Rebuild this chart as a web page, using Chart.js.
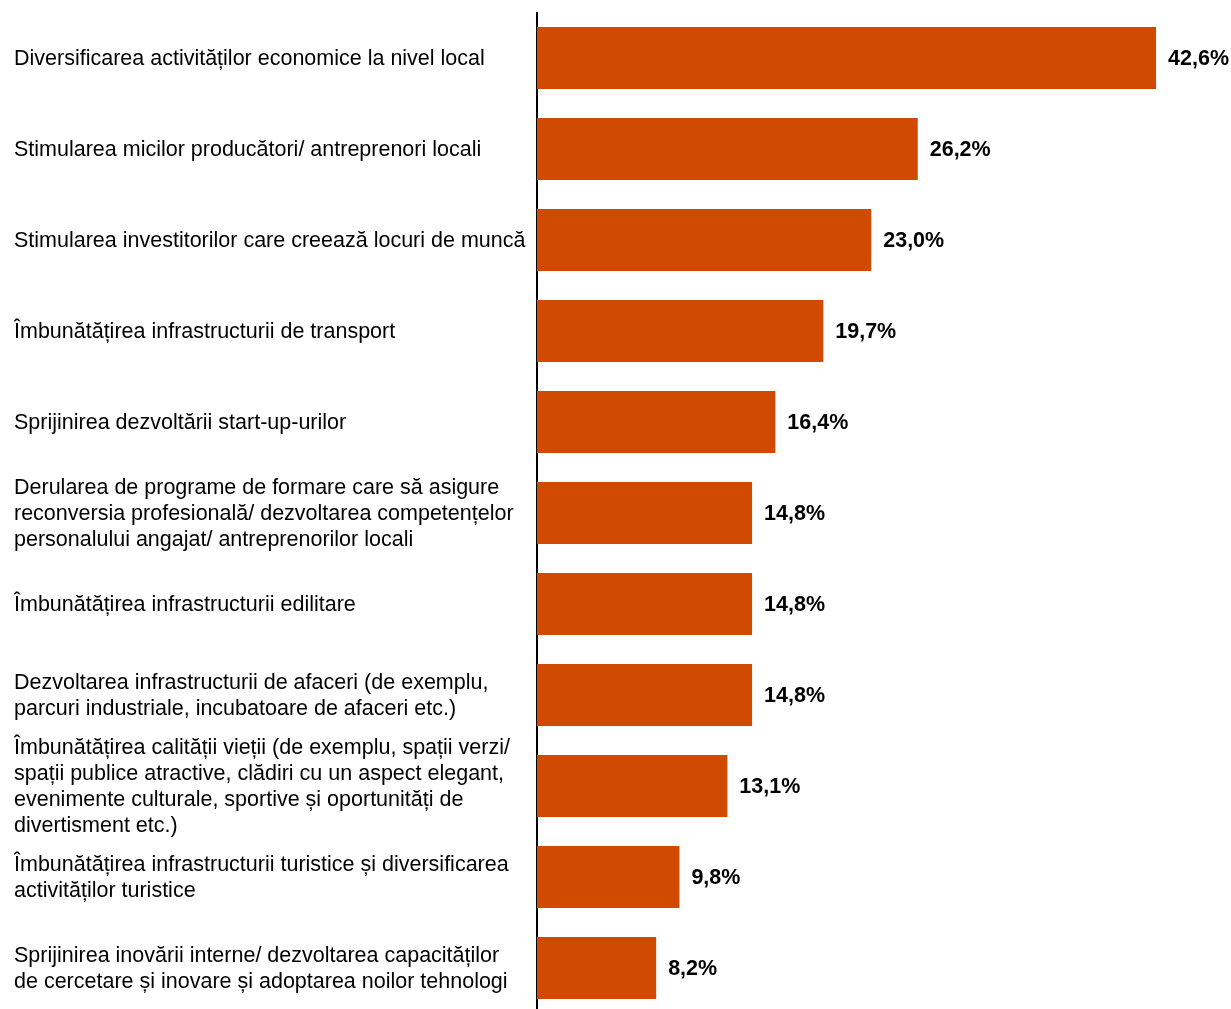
<!DOCTYPE html>
<html>
<head>
<meta charset="utf-8">
<script src="https://cdn.jsdelivr.net/npm/chart.js@4/dist/chart.umd.min.js"></script>
<style>
  html, body { margin: 0; padding: 0; background: #fff; overflow: hidden; }
  canvas { display: block; }
</style>
</head>
<body>
<canvas id="c" width="1231" height="1014"></canvas>
<script>
const categories = [
  "Diversificarea activităților economice la nivel local",
  "Stimularea micilor producători/ antreprenori locali",
  "Stimularea investitorilor care creează locuri de muncă",
  "Îmbunătățirea infrastructurii de transport",
  "Sprijinirea dezvoltării start-up-urilor",
  ["Derularea de programe de formare care să asigure", "reconversia profesională/ dezvoltarea competențelor", "personalului angajat/ antreprenorilor locali"],
  "Îmbunătățirea infrastructurii edilitare",
  ["Dezvoltarea infrastructurii de afaceri (de exemplu,", "parcuri industriale, incubatoare de afaceri etc.)"],
  ["Îmbunătățirea calității vieții (de exemplu, spații verzi/", "spații publice atractive, clădiri cu un aspect elegant,", "evenimente culturale, sportive și oportunități de", "divertisment etc.)"],
  ["Îmbunătățirea infrastructurii turistice și diversificarea", "activităților turistice"],
  ["Sprijinirea inovării interne/ dezvoltarea capacităților", "de cercetare și inovare și adoptarea noilor tehnologi"]
];
const values = [42.6, 26.2, 23.0, 19.7, 16.4, 14.8, 14.8, 14.8, 13.1, 9.8, 8.2];

const FONT = "'Liberation Sans', Arial, sans-serif";

const valueLabels = {
  id: 'valueLabels',
  beforeDraw(chart) {
    const yScale = chart.scales.y;
    const items = yScale.getLabelItems();
    items.forEach(it => {
      if (!it._shifted && it.options && it.options.translation) {
        it.options.translation[1] += 1.5;
        it._shifted = true;
      }
    });
  },
  afterDatasetsDraw(chart) {
    const ctx = chart.ctx;
    const meta = chart.getDatasetMeta(0);
    ctx.save();
    ctx.font = "bold 21.5px " + FONT;
    ctx.fillStyle = '#000';
    ctx.textAlign = 'left';
    ctx.textBaseline = 'middle';
    meta.data.forEach((bar, i) => {
      const txt = values[i].toFixed(1).replace('.', ',') + '%';
      ctx.fillText(txt, bar.x + 12, bar.y + 1.5);
    });
    ctx.restore();
  }
};

new Chart(document.getElementById('c'), {
  type: 'bar',
  data: {
    labels: categories,
    datasets: [{
      data: values,
      backgroundColor: '#D04A02',
      borderWidth: 0,
      categoryPercentage: 1,
      barPercentage: 0.68
    }]
  },
  options: {
    indexAxis: 'y',
    responsive: false,
    animation: false,
    events: [],
    layout: { padding: { top: 12.5, bottom: 0.5, left: 14, right: 11 } },
    plugins: { legend: { display: false }, tooltip: { enabled: false } },
    scales: {
      x: { display: false, min: 0, max: 47 },
      y: {
        grid: { display: false },
        border: { display: true, color: '#000', width: 2 },
        ticks: {
          crossAlign: 'far',
          color: '#000',
          font: { family: FONT, size: 21.5, lineHeight: 1.21 },
          autoSkip: false
        },
        afterFit(scale) {
          scale.width = 523;
          scale.paddingTop = 0;
          scale.paddingBottom = 0;
        }
      }
    }
  },
  plugins: [valueLabels]
});
</script>
</body>
</html>
